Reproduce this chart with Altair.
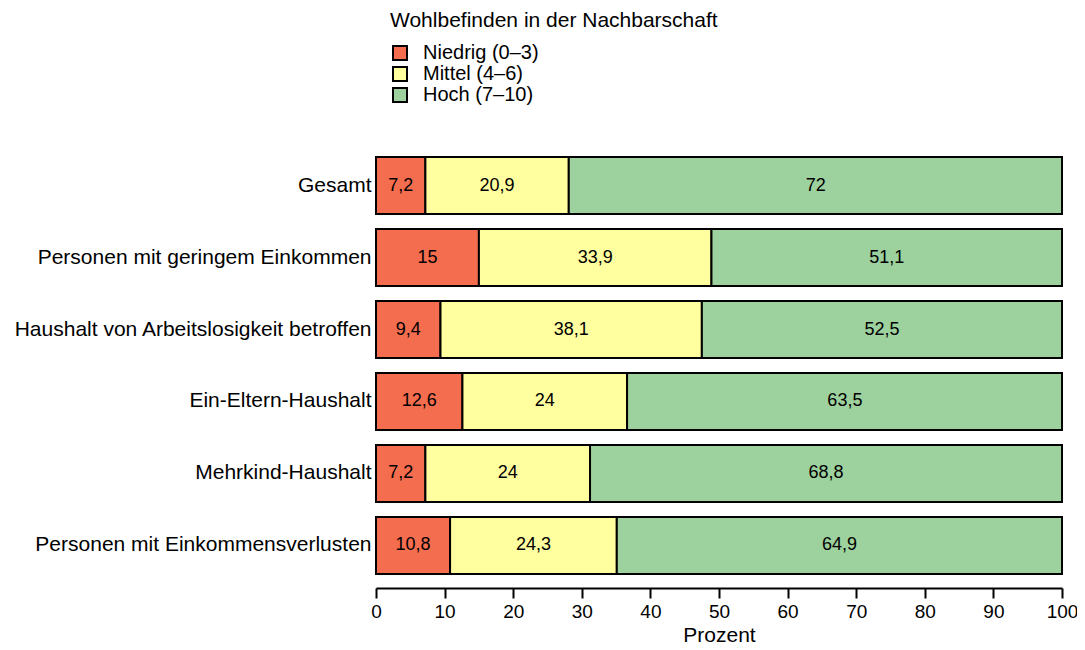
import altair as alt
import pandas as pd

groups = [
    "Gesamt",
    "Personen mit geringem Einkommen",
    "Haushalt von Arbeitslosigkeit betroffen",
    "Ein-Eltern-Haushalt",
    "Mehrkind-Haushalt",
    "Personen mit Einkommensverlusten",
]
categories = ["Niedrig (0–3)", "Mittel (4–6)", "Hoch (7–10)"]
niedrig = [7.2, 15, 9.4, 12.6, 7.2, 10.8]
mittel = [20.9, 33.9, 38.1, 24, 24, 24.3]
hoch = [72, 51.1, 52.5, 63.5, 68.8, 64.9]
colors = ["#F46D4F", "#FFFFA0", "#9DD19D"]

rows = []
for series_i, (cat, vals) in enumerate(zip(categories, [niedrig, mittel, hoch])):
    for g, v in zip(groups, vals):
        lab = (f"{v:g}").replace(".", ",")
        rows.append({"group": g, "cat": cat, "order": series_i, "value": v, "label": lab})
df = pd.DataFrame(rows)

FONT = "Liberation Sans"

base = alt.Chart(df).transform_stack(
    stack="value", groupby=["group"], sort=[alt.SortField("order", order="ascending")],
    as_=["x0", "x1"]
).transform_calculate(mid="(datum.x0 + datum.x1) / 2")

xscale = alt.Scale(domain=[0, 100], nice=False, clamp=True)
yenc = alt.Y("group:N", sort=groups, title=None,
             scale=alt.Scale(paddingInner=0.208, paddingOuter=0),
             axis=alt.Axis(domain=False, ticks=False, labelFontSize=21, labelFont=FONT,
                           labelColor="#000000", labelPadding=5, labelLimit=0))

bars = base.mark_bar(stroke="#000000", strokeWidth=2).encode(
    x=alt.X("x0:Q", scale=xscale, title="Prozent",
            axis=alt.Axis(values=list(range(0, 101, 10)), grid=False, offset=14,
                          domainColor="#000000", domainWidth=2, tickColor="#000000",
                          tickWidth=2, tickSize=10, labelFontSize=19, labelFont=FONT,
                          labelColor="#000000", titleFontSize=21, titleFont=FONT,
                          titleFontWeight="normal", titleColor="#000000", titlePadding=3,
                          labelPadding=4, labelFlush=False)),
    x2="x1:Q",
    y=yenc,
    color=alt.Color("cat:N", sort=categories,
                    scale=alt.Scale(domain=categories, range=colors),
                    legend=alt.Legend(title="Wohlbefinden in der Nachbarschaft",
                                      orient="none", legendX=14, legendY=-147,
                                      titleFontSize=21, titleFont=FONT,
                                      titleFontWeight="normal", titleColor="#000000",
                                      titlePadding=12, titleLimit=0, labelLimit=0,
                                      labelFontSize=20, labelFont=FONT, labelColor="#000000",
                                      symbolType="square", symbolSize=196,
                                      symbolStrokeColor="#000000", symbolStrokeWidth=2,
                                      symbolOpacity=1, rowPadding=-5, labelOffset=13)),
)

texts = base.mark_text(fontSize=18, font=FONT, color="#000000").encode(
    x=alt.X("mid:Q", scale=xscale),
    y=alt.Y("group:N", sort=groups),
    text="label:N",
)

chart = (bars + texts).properties(
    width=686, height=417,
    autosize=alt.AutoSizeParams(type="none"),
    padding={"left": 368, "top": 149, "right": 15, "bottom": 72},
).configure_view(stroke=None)
chart.save("out.html", embed_options={"renderer": "svg", "actions": False})
